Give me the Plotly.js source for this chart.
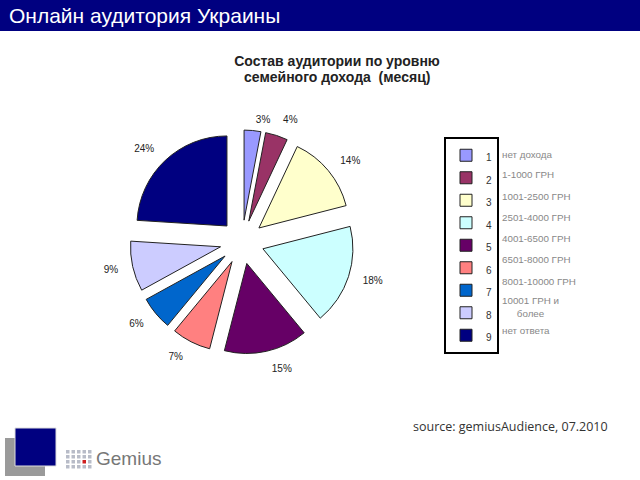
<!DOCTYPE html>
<html>
<head>
<meta charset="utf-8">
<script src="https://cdn.plot.ly/plotly-3.0.1.min.js"></script>
<style>html,body{margin:0;padding:0;background:#fff;}#chart{width:640px;height:480px;}</style>
</head>
<body>
<div id="chart"></div>
<script>
// ---- data ----
const categories = ['1','2','3','4','5','6','7','8','9'];
const shares = [3, 4, 14, 18, 15, 7, 6, 9, 24];
const incomeLabels = ['нет дохода','1-1000 ГРН','1001-2500 ГРН','2501-4000 ГРН','4001-6500 ГРН','6501-8000 ГРН','8001-10000 ГРН','10001 ГРН и<br>более','нет ответа'];
const sliceColors = ['#9999FF','#993366','#FFFFCC','#CCFFFF','#660066','#FF8080','#0066CC','#CCCCFF','#000080'];
const headerText = 'Онлайн аудитория Украины';
const chartTitleLines = ['Состав аудитории по уровню', 'семейного дохода  (месяц)'];
const sourceText = 'source: gemiusAudience, 07.2010';

// ---- layout helpers (pixel -> paper) ----
const W = 640, H = 480;
const px = x => x / W;
const py = y => 1 - y / H;
const cx = 242, cy = 242;
const pieLabels = categories.map(c => '<span style="font-size:10px">' + c + '</span>');
const labelFont = {family: 'Liberation Sans, Arial, sans-serif', size: 10, color: '#222'};
const box = half => ({x: [px(cx - half), px(cx + half)], y: [py(cy + half), py(cy - half)]});

const slices = {
  type: 'pie', labels: pieLabels, values: shares,
  sort: false, direction: 'clockwise', rotation: 0, pull: 0.244,
  marker: {colors: sliceColors, line: {color: '#222', width: 1}},
  textinfo: 'none', domain: box(112), hoverinfo: 'none'
};
// transparent companion pies carrying the percent labels a little further out
const labelRing = {
  type: 'pie', labels: pieLabels, values: shares,
  sort: false, direction: 'clockwise', rotation: 0, pull: 0.244, showlegend: false,
  marker: {colors: shares.map(() => 'rgba(0,0,0,0)'), line: {width: 0}},
  texttemplate: '%{value}%',
  textposition: shares.map((v, i) => i === 0 ? 'none' : 'outside'),
  outsidetextfont: labelFont, domain: box(124), hoverinfo: 'none'
};
const labelRingSmall = {
  type: 'pie', labels: pieLabels, values: shares,
  sort: false, direction: 'clockwise', rotation: 0, pull: 0.244, showlegend: false,
  marker: {colors: shares.map(() => 'rgba(0,0,0,0)'), line: {width: 0}},
  texttemplate: '%{value}%',
  textposition: shares.map((v, i) => i === 0 ? 'outside' : 'none'),
  outsidetextfont: labelFont, domain: box(118), hoverinfo: 'none'
};

const descY = [154, 175, 196, 217, 238, 259, 281, 307, 330];
const annotations = incomeLabels.map((t, i) => ({
  xref: 'paper', yref: 'paper', x: px(500), y: py(descY[i]),
  xanchor: 'left', yanchor: 'middle', align: 'center', showarrow: false,
  text: t, font: {family: 'Liberation Sans, Arial, sans-serif', size: 9.8, color: '#888'}
}));
annotations.push({
  xref: 'paper', yref: 'paper', x: px(337), y: py(77), xanchor: 'center', yanchor: 'middle',
  showarrow: false, text: chartTitleLines[1],
  font: {family: 'Liberation Sans, Arial, sans-serif', size: 14, color: '#222', weight: 'bold'}
});
annotations.push({
  xref: 'paper', yref: 'paper', x: px(7), y: py(16), xanchor: 'left', yanchor: 'middle',
  showarrow: false, text: headerText,
  font: {family: 'Liberation Sans, Arial, sans-serif', size: 21, color: '#fff'}
});
annotations.push({
  xref: 'paper', yref: 'paper', x: px(411), y: py(426), xanchor: 'left', yanchor: 'middle',
  showarrow: false, text: sourceText,
  font: {family: 'Open Sans, sans-serif', size: 12.5, color: '#333'}
});
annotations.push({
  xref: 'paper', yref: 'paper', x: px(94), y: py(458), xanchor: 'left', yanchor: 'middle',
  showarrow: false, text: 'Gemius',
  font: {family: 'Liberation Sans, Arial, sans-serif', size: 19, color: '#777'}
});

const shapes = [
  {type: 'rect', xref: 'paper', yref: 'paper', x0: 0, x1: 1, y0: py(31), y1: 1, fillcolor: '#000080', line: {width: 0}, layer: 'below'},
  {type: 'rect', xref: 'paper', yref: 'paper', x0: px(5), x1: px(45), y0: py(476), y1: py(438), fillcolor: '#9a9a9a', line: {width: 0}},
  {type: 'rect', xref: 'paper', yref: 'paper', x0: px(15), x1: px(56), y0: py(466), y1: py(428), fillcolor: '#000080', line: {color: '#ddd', width: 1}}
];
// small dot grid of the logo
for (let c = 0; c < 5; c++) {
  for (let r = 0; r < 4; r++) {
    const x0 = 66 + c * 5.5, y0 = 450 + r * 5;
    const red = (c === 3 && r === 2);
    shapes.push({type: 'rect', xref: 'paper', yref: 'paper', x0: px(x0), x1: px(x0 + 3.5), y0: py(y0 + 3.5), y1: py(y0),
      fillcolor: red ? '#d02020' : '#b8bcc8', line: {width: 0}});
  }
}

const layout = {
  width: W, height: H,
  margin: {l: 0, r: 0, t: 0, b: 0},
  paper_bgcolor: '#fff',
  title: {
    text: chartTitleLines[0], x: px(337), xanchor: 'center', y: py(61), yanchor: 'middle',
    font: {family: 'Liberation Sans, Arial, sans-serif', size: 14, color: '#222', weight: 'bold'}
  },
  showlegend: true,
  legend: {
    x: px(444), xanchor: 'left', y: py(137), yanchor: 'top',
    bordercolor: '#000', borderwidth: 2, bgcolor: 'rgba(0,0,0,0)',
    font: {family: 'Liberation Sans, Arial, sans-serif', size: 15, color: '#333'},
    traceorder: 'normal'
  },
  annotations: annotations,
  shapes: shapes
};

Plotly.newPlot('chart', [slices, labelRing, labelRingSmall], layout, {staticPlot: true, displayModeBar: false});
</script>
</body>
</html>
